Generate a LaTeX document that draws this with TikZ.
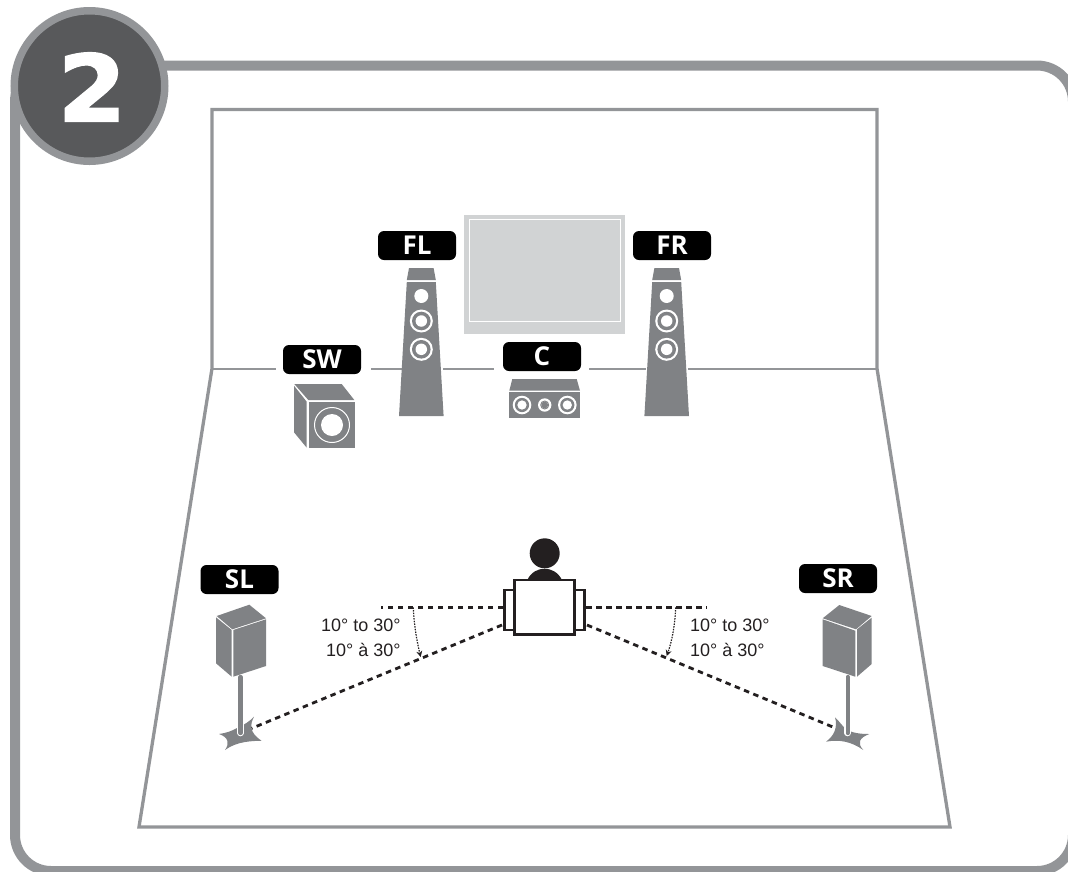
\documentclass[tikz,border=0pt]{standalone}
\usepackage{fontspec}
\setsansfont{Liberation Sans}
\newfontfamily\lblfont{Open Sans}
\newfontfamily\numfont[FakeBold=2,FakeStretch=1.07]{DejaVu Sans}
\usetikzlibrary{arrows.meta}
\definecolor{cframe}{HTML}{939598}
\definecolor{cdark}{HTML}{58595B}
\definecolor{cspk}{HTML}{808285}
\definecolor{ctv}{HTML}{D1D3D4}
\definecolor{cink}{HTML}{231F20}
\tikzset{
  every picture/.style={font=\sffamily},
  lbl/.style={fill=black, text=white, rounded corners=6pt, minimum width=78pt, minimum height=29pt, inner sep=0pt, font=\lblfont\bfseries\fontsize{26}{26}\selectfont},
  room/.style={draw=cframe, line width=3.3pt, line join=miter},
  wall/.style={draw=cframe, line width=1.2pt},
  spk/.style={fill=cspk},
  sight/.style={draw=cink, line width=2.8pt, dash pattern=on 5.5pt off 4.5pt},
  angle arc/.style={draw=cink, line width=1.2pt, dash pattern=on 1.5pt off 1.2pt, -{Stealth[length=6pt, width=6pt]}},
  seat/.style={draw=cink, line width=2.7pt, fill=white},
  angtxt/.style={font=\sffamily\fontsize{18}{18}\selectfont, text=cink, inner sep=0pt},
}
\newcommand{\spkcone}[3]{% x, y, outer radius
  \fill[white] (#1,#2) circle[radius=#3];
  \fill[cspk] (#1,#2) circle[radius=#3-2.2];
  \fill[white] (#1,#2) circle[radius=#3*0.5];
}
\begin{document}
\begin{tikzpicture}[x=1pt,y=-1pt]
  \useasboundingbox (0,0) rectangle (1068,871);
  \clip (0,0) rectangle (1068,871);
  % outer frame and step badge
  \draw[cframe, line width=10pt, rounded corners=36pt] (15,65.5) rectangle (1073,871);
  \node[circle, fill=cdark, draw=cframe, line width=7.5pt, minimum size=150.5pt, inner sep=0pt] (badge) at (89.5,86) {};
  \node[text=white, inner sep=0pt, font=\numfont\bfseries\fontsize{92}{92}\selectfont] (num) at (92,87) {2};
  % room
  \draw[room] (212,368.5) -- (212,109.5) -- (877,109.5) -- (877,368.5) -- (950,827) -- (139,827) -- cycle;
  \draw[wall] (212,369) -- (276,369);
  \draw[wall] (371,369) -- (402,369);
  \draw[wall] (443,369) -- (494,369);
  \draw[wall] (589,369) -- (646,369);
  \draw[wall] (688,369) -- (877,369);
  % screen
  \fill[ctv] (464,215) rectangle (625,334);
  \draw[white, line width=1pt] (469,219.7) rectangle (620.7,321.7);
  % front towers
  \foreach \cx in {421.3, 666.7} {
    \begin{scope}[shift={(\cx,0)}]
      \fill[spk] (-12.3,268) -- (12.3,268) -- (14.5,280) -- (-14.5,280) -- cycle;
      \fill[spk] (-14.5,282) -- (14.5,282) -- (22.3,416) -- (-22.3,416) -- cycle;
      \fill[white] (0,296) circle[radius=7];
      \spkcone{0}{321}{11.5}
      \spkcone{0}{349.3}{11.5}
    \end{scope}
  }
  % subwoofer
  \fill[spk] (294.3,384) -- (341.7,384) -- (354.3,400) -- (308.3,400) -- cycle;
  \fill[spk] (294,385.7) -- (306.7,401.7) -- (306.7,447.7) -- (294,432.3) -- cycle;
  \fill[spk] (309,401.7) rectangle (354.7,448.3);
  \draw[white, line width=1pt] (332,425) circle[radius=17.5];
  \fill[white] (332,425) circle[radius=11];
  % centre speaker
  \fill[spk] (512.3,379) -- (576.7,379) -- (580,390.7) -- (509.3,390.7) -- cycle;
  \fill[spk] (509,392.3) rectangle (580.3,417.7);
  \spkcone{522}{405}{9.3}
  \spkcone{544.7}{405}{6.7}
  \fill[cspk] (544.7,405) circle[radius=3.4];
  \spkcone{567.3}{405}{9.3}
  % surround left
  \fill[spk] (216.7,616) -- (249.3,604.7) -- (266,618.3) -- (232.3,629.3) -- cycle;
  \fill[spk] (216,617.3) -- (231.7,630) -- (231.7,676.7) -- (216,663.3) -- cycle;
  \fill[spk] (233.3,630) -- (266,619.3) -- (266,666) -- (233.3,676.7) -- cycle;
  \fill[spk] (254,716.7) .. controls (250,724) and (249,733) .. (261.7,740.7) .. controls (253,741) and (237,741) .. (225,750) .. controls (230,743) and (228,737) .. (219,734) .. controls (226,733) and (232,731) .. (237,728) .. controls (244,725) and (250,721) .. cycle;
  \draw[white, line width=6.5pt, line cap=round] (240.5,678) -- (240.5,733);
  \draw[cspk, line width=4.3pt, line cap=round] (240.5,677) -- (240.5,733);
  % surround right
  \fill[spk] (835,717.3) .. controls (840,722) and (843,727) .. (846,729) .. controls (852,733) and (860,734) .. (869.3,734) .. controls (859,738) and (857,743) .. (863.3,750) .. controls (852,742) and (840,739) .. (826,741.7) .. controls (834,736) and (838,727) .. cycle;
  \fill[spk] (822.7,618.3) -- (839.3,605) -- (871.7,616) -- (856,629.3) -- cycle;
  \fill[spk] (822.7,619.3) -- (855.3,630.7) -- (855.3,676.7) -- (822.7,666) -- cycle;
  \fill[spk] (857,629.3) -- (871.7,617.7) -- (871.7,664) -- (857,676.7) -- cycle;
  \draw[white, line width=6.5pt, line cap=round] (847.7,678) -- (847.7,733);
  \draw[cspk, line width=4.3pt, line cap=round] (847.7,677) -- (847.7,733);
  % listener
  \fill[cink] (544.7,553.3) circle[radius=15];
  \fill[cink] (527.3,580) .. controls (531,572) and (538,568.7) .. (544.7,568.7) .. controls (551,568.7) and (558,572) .. (562,580) -- cycle;
  \draw[seat] (504.7,590) rectangle (514.7,630);
  \draw[seat] (574.7,590) rectangle (584.7,630);
  \draw[seat] (514.7,580) rectangle (574.7,634.7);
  % sight lines
  \coordinate (seatL) at (503,607.3);
  \coordinate (seatR) at (586,607.3);
  \coordinate (seatLd) at (502,625);
  \coordinate (seatRd) at (587,625);
  \coordinate (flatL) at (381,607.3);
  \coordinate (flatR) at (707,607.3);
  \coordinate (baseL) at (251.7,728.3);
  \coordinate (baseR) at (836,728.3);
  \draw[sight] (seatL) -- (flatL);
  \draw[sight] (seatR) -- (flatR);
  \draw[sight] (seatLd) -- (baseL);
  \draw[sight] (seatRd) -- (baseR);
  \draw[angle arc] (413.3,607.3) .. controls (414,625) and (417,642) .. (420.7,657);
  \draw[angle arc] (675.7,607.3) .. controls (675,625) and (672,641) .. (666.7,656);
  % angle texts
  \node[angtxt, anchor=east] (tl1) at (400.7,625) {10° to 30°};
  \node[angtxt, anchor=east] (tl2) at (400.7,649.5) {10° à 30°};
  \node[angtxt, anchor=west] (tr1) at (690,625) {10° to 30°};
  \node[angtxt, anchor=west] (tr2) at (690,649.5) {10° à 30°};
  % channel labels
  \node[lbl] (fl) at (417,245.5) {FL};
  \node[lbl] (fr) at (672,245.5) {FR};
  \node[lbl] (sw) at (322,359.5) {SW};
  \node[lbl] (c) at (542,356.5) {C};
  \node[lbl] (sl) at (239.5,579.5) {SL};
  \node[lbl] (sr) at (838,578.5) {SR};
\end{tikzpicture}
\end{document}
